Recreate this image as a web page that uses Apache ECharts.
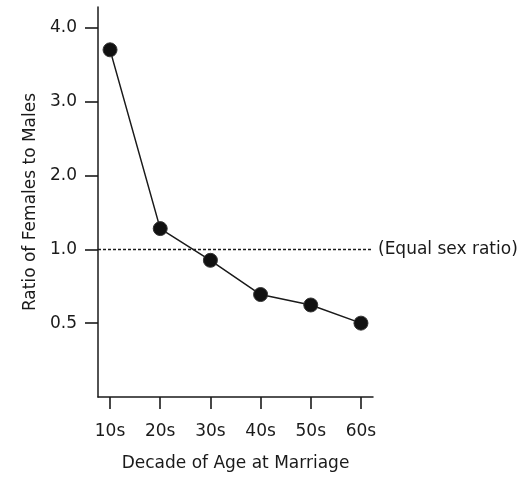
<!DOCTYPE html>
<html>
<head>
<meta charset="utf-8">
<script src="https://cdn.jsdelivr.net/npm/echarts@6/dist/echarts.min.js"></script>
<style>
  html, body { margin: 0; padding: 0; background: #fff; }
  #chart { width: 521px; height: 477px; }
</style>
</head>
<body>
<div id="chart"></div>
<script>
// data
const decades = ["10s", "20s", "30s", "40s", "50s", "60s"];
const ratios = [3.7, 1.28, 0.87, 0.62, 0.57, 0.5];
const yTickRatios = [0.5, 1.0, 2.0, 3.0, 4.0];

// ratio axis: linear above 1, reciprocal below 1 (0.5 sits one unit under 1.0)
const toPos = (r) => (r >= 1 ? r : 2 - 1 / r);
const fromPos = (p) => (p >= 1 ? p : 1 / (2 - p));

const font = "DejaVu Sans";
const fs = 17;
const ink = "#1a1a1a";

const chart = echarts.init(document.getElementById("chart"));
chart.setOption({
  animation: false,
  grid: { left: 98, right: 148, top: 7, bottom: 78 },
  xAxis: {
    type: "value",
    min: 0.76,
    max: 6.24,
    name: "Decade of Age at Marriage",
    nameLocation: "middle",
    nameGap: 58,
    nameTextStyle: { fontFamily: font, fontSize: fs, color: ink },
    splitLine: { show: false },
    axisLine: { onZero: false, lineStyle: { color: ink, width: 1.5 } },
    axisTick: {
      show: true,
      customValues: decades.map((d, i) => i + 1),
      length: 12,
      lineStyle: { color: ink, width: 1.6 },
    },
    axisLabel: {
      customValues: decades.map((d, i) => i + 1),
      formatter: (v) => decades[Math.round(v) - 1],
      margin: 26,
      fontFamily: font,
      fontSize: fs,
      color: ink,
    },
  },
  yAxis: {
    type: "value",
    min: -1,
    max: 4.28,
    name: "Ratio of Females to Males",
    nameLocation: "middle",
    nameGap: 56,
    nameTextStyle: { fontFamily: font, fontSize: fs, color: ink },
    splitLine: { show: false },
    axisLine: { show: true, onZero: false, lineStyle: { color: ink, width: 1.5 } },
    axisTick: {
      show: true,
      customValues: yTickRatios.map(toPos),
      length: 13,
      lineStyle: { color: ink, width: 1.6 },
    },
    axisLabel: {
      customValues: yTickRatios.map(toPos),
      formatter: (v) => fromPos(v).toFixed(1),
      margin: 21,
      fontFamily: font,
      fontSize: fs,
      color: ink,
    },
  },
  series: [
    {
      type: "line",
      data: ratios.map((r, i) => [i + 1, toPos(r)]),
      symbol: "circle",
      symbolSize: 14,
      lineStyle: { color: ink, width: 1.5 },
      itemStyle: { color: "#111", borderColor: "#333", borderWidth: 1 },
      markLine: {
        silent: true,
        symbol: "none",
        lineStyle: { color: ink, type: [3, 2], width: 1.3 },
        label: {
          show: true,
          position: "end",
          distance: 5,
          formatter: "(Equal sex ratio)",
          fontFamily: font,
          fontSize: fs,
          color: ink,
        },
        data: [{ yAxis: toPos(1) }],
      },
      z: 3,
    },
  ],
});
</script>
</body>
</html>
